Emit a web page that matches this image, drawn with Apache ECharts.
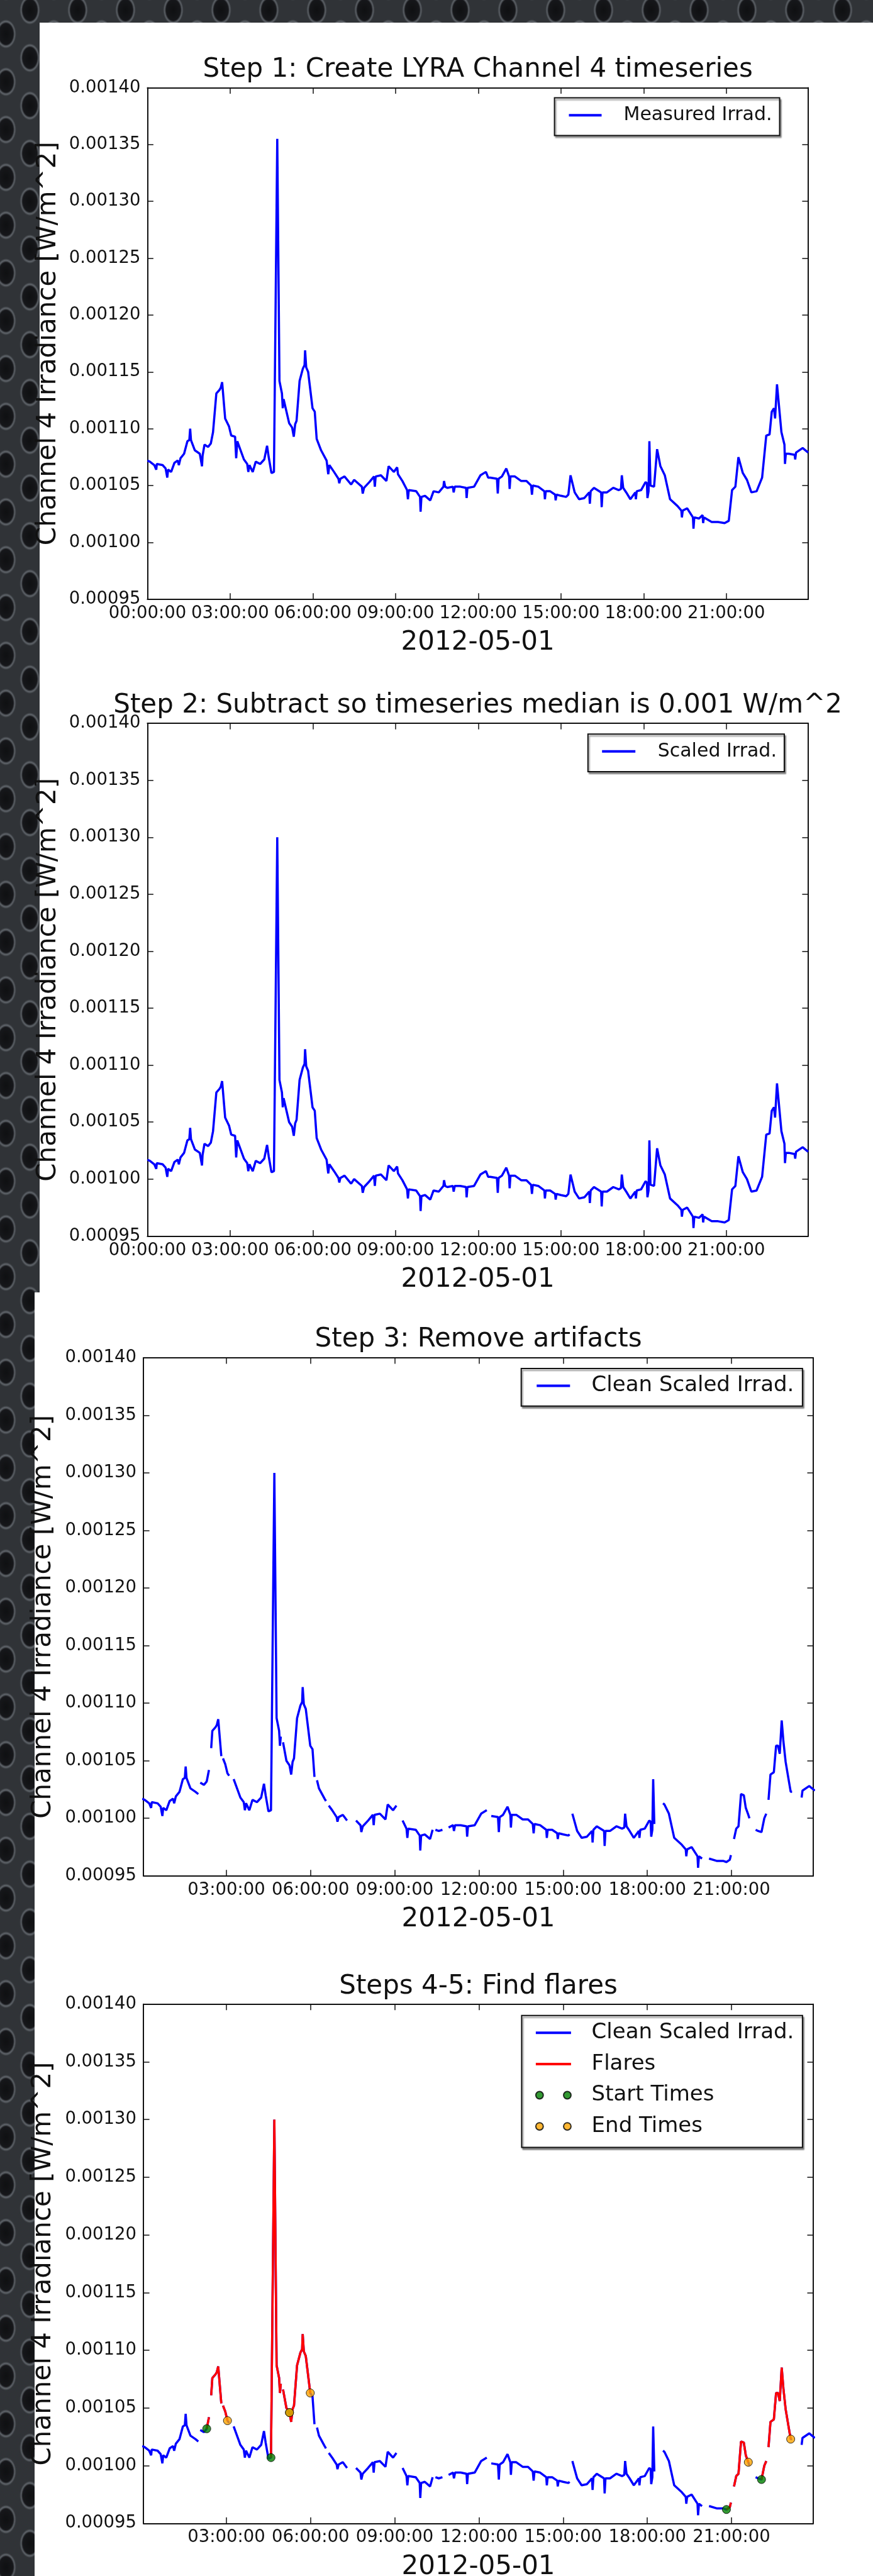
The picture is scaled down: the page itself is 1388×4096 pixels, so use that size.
<!DOCTYPE html>
<html>
<head>
<meta charset="utf-8">
<script src="https://cdn.jsdelivr.net/npm/echarts@6/dist/echarts.min.js"></script>
<style>
  html, body { margin: 0; padding: 0; }
  body {
    width: 1388px; height: 4096px; overflow: hidden; position: relative;
    background-color: #303337;
    background-image:
      radial-gradient(ellipse 16px 23px at 50% 50%, #0f1012 0%, #16171a 72%, #60656b 86%, rgba(48,51,55,0) 100%),
      radial-gradient(ellipse 16px 23px at 50% 50%, #0f1012 0%, #16171a 72%, #60656b 86%, rgba(48,51,55,0) 100%);
    background-size: 76px 76px, 76px 76px;
    background-position: -28.5px 16px, 9.5px 54px;
  }
  .sheet { position: absolute; background: #fff; }
  #chart { position: absolute; left: 0; top: 0; width: 1388px; height: 4096px; }
</style>
</head>
<body>
<div class="sheet" style="left:62.6px; top:36px; width:1325.4px; height:2018.6px"></div>
<div class="sheet" style="left:55px; top:2054.6px; width:1333px; height:2041.4px"></div>
<div id="chart"></div>
<script>
// LYRA channel 4, 2012-05-01 -- hours of day, irradiance in W/m^2
var measured = [
  [0.00,107.2e-5],[0.09,107.1e-5],[0.25,106.8e-5],[0.32,106.4e-5],[0.34,106.9e-5],[0.55,106.8e-5],[0.66,106.5e-5],[0.72,105.7e-5],[0.75,106.4e-5],[0.86,106.2e-5],
  [0.98,107.0e-5],[1.10,107.2e-5],[1.14,106.8e-5],[1.20,107.4e-5],[1.33,107.8e-5],[1.45,108.9e-5],[1.52,109.0e-5],[1.55,110.0e-5],[1.58,109.0e-5],[1.72,108.1e-5],
  [1.90,107.8e-5],[1.98,106.7e-5],[2.00,107.6e-5],[2.07,108.6e-5],[2.20,108.4e-5],[2.30,108.7e-5],[2.38,109.7e-5],[2.50,113.1e-5],[2.61,113.4e-5],[2.66,113.6e-5],
  [2.71,114.1e-5],[2.82,110.9e-5],[2.96,110.2e-5],[3.04,109.4e-5],[3.18,109.3e-5],[3.22,107.4e-5],[3.26,108.9e-5],[3.50,107.3e-5],[3.62,106.9e-5],[3.66,106.2e-5],
  [3.70,106.8e-5],[3.82,106.2e-5],[3.93,107.1e-5],[4.09,106.9e-5],[4.24,107.3e-5],[4.34,108.5e-5],[4.40,107.5e-5],[4.50,106.1e-5],[4.59,106.2e-5],[4.71,135.5e-5],
  [4.79,114.2e-5],[4.88,113.1e-5],[4.91,111.8e-5],[4.94,112.6e-5],[5.14,110.5e-5],[5.25,110.1e-5],[5.31,109.3e-5],[5.36,110.4e-5],[5.41,110.7e-5],[5.52,114.2e-5],
  [5.64,115.3e-5],[5.70,115.6e-5],[5.72,116.9e-5],[5.76,115.4e-5],[5.83,115.0e-5],[5.99,111.8e-5],[6.07,111.5e-5],[6.14,109.1e-5],[6.30,108.1e-5],[6.50,107.2e-5],
  [6.56,106.0e-5],[6.60,106.8e-5],[6.77,106.2e-5],[6.93,105.6e-5],[6.96,105.2e-5],[7.00,105.6e-5],[7.15,105.8e-5],[7.39,105.1e-5],[7.50,105.5e-5],[7.78,104.9e-5],
  [7.81,104.3e-5],[7.86,104.8e-5],[8.05,105.3e-5],[8.22,105.8e-5],[8.25,104.9e-5],[8.28,105.8e-5],[8.47,105.9e-5],[8.67,105.4e-5],[8.75,106.7e-5],[8.94,106.2e-5],
  [9.06,106.6e-5],[9.09,106.0e-5],[9.25,105.4e-5],[9.42,104.6e-5],[9.45,103.8e-5],[9.48,104.6e-5],[9.75,104.5e-5],[9.89,104.0e-5],[9.91,102.7e-5],[9.94,104.0e-5],
  [10.07,104.1e-5],[10.26,103.7e-5],[10.38,104.5e-5],[10.57,104.4e-5],[10.74,104.9e-5],[10.76,105.4e-5],[10.80,104.9e-5],[10.88,104.8e-5],[11.08,104.9e-5],[11.11,104.4e-5],
  [11.15,104.9e-5],[11.35,104.9e-5],[11.56,104.8e-5],[11.58,103.9e-5],[11.61,104.8e-5],[11.85,104.9e-5],[12.08,105.9e-5],[12.28,106.2e-5],[12.36,105.7e-5],[12.44,105.7e-5],
  [12.68,105.6e-5],[12.71,104.3e-5],[12.74,105.6e-5],[12.86,105.8e-5],[13.02,106.5e-5],[13.12,105.8e-5],[13.14,104.7e-5],[13.17,105.8e-5],[13.33,105.8e-5],[13.56,105.4e-5],
  [13.75,105.4e-5],[13.92,105.0e-5],[13.95,104.2e-5],[13.98,105.0e-5],[14.18,104.9e-5],[14.40,104.5e-5],[14.42,103.8e-5],[14.45,104.5e-5],[14.61,104.5e-5],[14.79,104.2e-5],
  [14.81,103.7e-5],[14.84,104.2e-5],[15.00,104.1e-5],[15.19,104.0e-5],[15.27,104.2e-5],[15.35,105.9e-5],[15.50,104.4e-5],[15.66,103.8e-5],[15.85,103.9e-5],[16.03,104.4e-5],
  [16.05,103.4e-5],[16.08,104.5e-5],[16.20,104.8e-5],[16.46,104.4e-5],[16.48,103.1e-5],[16.51,104.4e-5],[16.67,104.4e-5],[16.90,104.8e-5],[17.10,104.6e-5],[17.18,104.7e-5],
  [17.21,105.9e-5],[17.26,104.8e-5],[17.37,104.4e-5],[17.52,103.8e-5],[17.70,104.4e-5],[17.72,103.8e-5],[17.75,104.5e-5],[17.91,104.6e-5],[18.07,105.3e-5],[18.12,105.2e-5],
  [18.14,103.9e-5],[18.18,104.5e-5],[18.21,108.9e-5],[18.25,105.0e-5],[18.38,104.9e-5],[18.49,108.2e-5],[18.61,106.7e-5],[18.77,105.9e-5],[18.96,103.8e-5],[19.23,103.2e-5],
  [19.37,102.8e-5],[19.39,102.2e-5],[19.42,102.8e-5],[19.58,103.0e-5],[19.79,102.2e-5],[19.81,101.2e-5],[19.84,102.2e-5],[20.01,102.1e-5],[20.14,102.4e-5],[20.16,101.7e-5],
  [20.19,102.2e-5],[20.47,101.8e-5],[20.70,101.8e-5],[20.94,101.7e-5],[21.09,101.9e-5],[21.21,104.6e-5],[21.33,104.9e-5],[21.44,107.5e-5],[21.60,106.1e-5],[21.75,105.5e-5],
  [21.91,104.4e-5],[22.10,104.5e-5],[22.30,105.7e-5],[22.45,109.4e-5],[22.57,109.5e-5],[22.65,111.5e-5],[22.73,111.8e-5],[22.77,110.9e-5],[22.84,113.9e-5],[23.00,109.7e-5],
  [23.11,108.6e-5],[23.13,106.9e-5],[23.16,107.8e-5],[23.27,107.8e-5],[23.48,107.7e-5],[23.50,107.3e-5],[23.53,107.9e-5],[23.77,108.3e-5],[23.97,107.9e-5]
];

var scaled = [
  [0.00,101.7e-5],[0.09,101.6e-5],[0.25,101.3e-5],[0.32,100.9e-5],[0.34,101.4e-5],[0.55,101.3e-5],[0.66,101.0e-5],[0.72,100.2e-5],[0.75,100.9e-5],[0.86,100.7e-5],
  [0.98,101.5e-5],[1.10,101.7e-5],[1.14,101.3e-5],[1.20,101.9e-5],[1.33,102.3e-5],[1.45,103.4e-5],[1.52,103.5e-5],[1.55,104.5e-5],[1.58,103.5e-5],[1.72,102.6e-5],
  [1.90,102.3e-5],[1.98,101.2e-5],[2.00,102.1e-5],[2.07,103.1e-5],[2.20,102.9e-5],[2.30,103.2e-5],[2.38,104.2e-5],[2.50,107.6e-5],[2.61,107.9e-5],[2.66,108.1e-5],
  [2.71,108.6e-5],[2.82,105.4e-5],[2.96,104.7e-5],[3.04,103.9e-5],[3.18,103.8e-5],[3.22,101.9e-5],[3.26,103.4e-5],[3.50,101.8e-5],[3.62,101.4e-5],[3.66,100.7e-5],
  [3.70,101.3e-5],[3.82,100.7e-5],[3.93,101.6e-5],[4.09,101.4e-5],[4.24,101.8e-5],[4.34,103.0e-5],[4.40,102.0e-5],[4.50,100.6e-5],[4.59,100.7e-5],[4.71,130.0e-5],
  [4.79,108.7e-5],[4.88,107.6e-5],[4.91,106.3e-5],[4.94,107.1e-5],[5.14,105.0e-5],[5.25,104.6e-5],[5.31,103.8e-5],[5.36,104.9e-5],[5.41,105.2e-5],[5.52,108.7e-5],
  [5.64,109.8e-5],[5.70,110.1e-5],[5.72,111.4e-5],[5.76,109.9e-5],[5.83,109.5e-5],[5.99,106.3e-5],[6.07,106.0e-5],[6.14,103.6e-5],[6.30,102.6e-5],[6.50,101.7e-5],
  [6.56,100.5e-5],[6.60,101.3e-5],[6.77,100.7e-5],[6.93,100.1e-5],[6.96,99.7e-5],[7.00,100.1e-5],[7.15,100.3e-5],[7.39,99.6e-5],[7.50,100.0e-5],[7.78,99.4e-5],
  [7.81,98.8e-5],[7.86,99.3e-5],[8.05,99.8e-5],[8.22,100.3e-5],[8.25,99.4e-5],[8.28,100.3e-5],[8.47,100.4e-5],[8.67,99.9e-5],[8.75,101.2e-5],[8.94,100.7e-5],
  [9.06,101.1e-5],[9.09,100.5e-5],[9.25,99.9e-5],[9.42,99.1e-5],[9.45,98.3e-5],[9.48,99.1e-5],[9.75,99.0e-5],[9.89,98.5e-5],[9.91,97.2e-5],[9.94,98.5e-5],
  [10.07,98.6e-5],[10.26,98.2e-5],[10.38,99.0e-5],[10.57,98.9e-5],[10.74,99.4e-5],[10.76,99.9e-5],[10.80,99.4e-5],[10.88,99.3e-5],[11.08,99.4e-5],[11.11,98.9e-5],
  [11.15,99.4e-5],[11.35,99.4e-5],[11.56,99.3e-5],[11.58,98.4e-5],[11.61,99.3e-5],[11.85,99.4e-5],[12.08,100.4e-5],[12.28,100.7e-5],[12.36,100.2e-5],[12.44,100.2e-5],
  [12.68,100.1e-5],[12.71,98.8e-5],[12.74,100.1e-5],[12.86,100.3e-5],[13.02,101.0e-5],[13.12,100.3e-5],[13.14,99.2e-5],[13.17,100.3e-5],[13.33,100.3e-5],[13.56,99.9e-5],
  [13.75,99.9e-5],[13.92,99.5e-5],[13.95,98.7e-5],[13.98,99.5e-5],[14.18,99.4e-5],[14.40,99.0e-5],[14.42,98.3e-5],[14.45,99.0e-5],[14.61,99.0e-5],[14.79,98.7e-5],
  [14.81,98.2e-5],[14.84,98.7e-5],[15.00,98.6e-5],[15.19,98.5e-5],[15.27,98.7e-5],[15.35,100.4e-5],[15.50,98.9e-5],[15.66,98.3e-5],[15.85,98.4e-5],[16.03,98.9e-5],
  [16.05,97.9e-5],[16.08,99.0e-5],[16.20,99.3e-5],[16.46,98.9e-5],[16.48,97.6e-5],[16.51,98.9e-5],[16.67,98.9e-5],[16.90,99.3e-5],[17.10,99.1e-5],[17.18,99.2e-5],
  [17.21,100.4e-5],[17.26,99.3e-5],[17.37,98.9e-5],[17.52,98.3e-5],[17.70,98.9e-5],[17.72,98.3e-5],[17.75,99.0e-5],[17.91,99.1e-5],[18.07,99.8e-5],[18.12,99.7e-5],
  [18.14,98.4e-5],[18.18,99.0e-5],[18.21,103.4e-5],[18.25,99.5e-5],[18.38,99.4e-5],[18.49,102.7e-5],[18.61,101.2e-5],[18.77,100.4e-5],[18.96,98.3e-5],[19.23,97.7e-5],
  [19.37,97.3e-5],[19.39,96.7e-5],[19.42,97.3e-5],[19.58,97.5e-5],[19.79,96.7e-5],[19.81,95.7e-5],[19.84,96.7e-5],[20.01,96.6e-5],[20.14,96.9e-5],[20.16,96.2e-5],
  [20.19,96.7e-5],[20.47,96.3e-5],[20.70,96.3e-5],[20.94,96.2e-5],[21.09,96.4e-5],[21.21,99.1e-5],[21.33,99.4e-5],[21.44,102.0e-5],[21.60,100.6e-5],[21.75,100.0e-5],
  [21.91,98.9e-5],[22.10,99.0e-5],[22.30,100.2e-5],[22.45,103.9e-5],[22.57,104.0e-5],[22.65,106.0e-5],[22.73,106.3e-5],[22.77,105.4e-5],[22.84,108.4e-5],[23.00,104.2e-5],
  [23.11,103.1e-5],[23.13,101.4e-5],[23.16,102.3e-5],[23.27,102.3e-5],[23.48,102.2e-5],[23.50,101.8e-5],[23.53,102.4e-5],[23.77,102.8e-5],[23.97,102.4e-5]
];

// artifacts removed: null marks a break in the line
var clean = [
  [0.00,101.7e-5],[0.09,101.6e-5],[0.25,101.3e-5],[0.32,100.9e-5],[0.34,101.4e-5],[0.55,101.3e-5],[0.66,101.0e-5],[0.72,100.2e-5],[0.75,100.9e-5],[0.86,100.7e-5],
  [0.98,101.5e-5],[1.10,101.7e-5],[1.14,101.3e-5],[1.20,101.9e-5],[1.33,102.3e-5],[1.45,103.4e-5],[1.52,103.5e-5],[1.55,104.5e-5],[1.58,103.5e-5],[1.72,102.6e-5],
  [1.90,102.3e-5],[2.00,102.1e-5],[2.03,null],[2.07,103.1e-5],[2.20,102.9e-5],[2.30,103.2e-5],[2.38,104.2e-5],[2.42,null],[2.46,106.1e-5],[2.50,107.6e-5],
  [2.61,107.9e-5],[2.66,108.1e-5],[2.71,108.6e-5],[2.82,105.4e-5],[2.85,null],[2.88,105.2e-5],[2.96,104.7e-5],[3.04,103.9e-5],[3.10,103.7e-5],[3.18,null],
  [3.26,103.4e-5],[3.50,101.8e-5],[3.62,101.4e-5],[3.66,100.7e-5],[3.70,101.3e-5],[3.82,100.7e-5],[3.93,101.6e-5],[4.09,101.4e-5],[4.24,101.8e-5],[4.34,103.0e-5],
  [4.40,102.0e-5],[4.50,100.6e-5],[4.59,100.7e-5],[4.71,130.0e-5],[4.79,108.7e-5],[4.88,107.6e-5],[4.91,106.3e-5],[4.94,107.1e-5],[4.97,null],[5.02,106.6e-5],
  [5.14,105.0e-5],[5.25,104.6e-5],[5.31,103.8e-5],[5.36,104.9e-5],[5.41,105.2e-5],[5.52,108.7e-5],[5.64,109.8e-5],[5.70,110.1e-5],[5.72,111.4e-5],[5.76,109.9e-5],
  [5.83,109.5e-5],[5.99,106.3e-5],[6.07,106.0e-5],[6.14,103.6e-5],[6.19,null],[6.23,103.3e-5],[6.30,102.6e-5],[6.50,101.7e-5],[6.55,101.5e-5],[6.60,null],
  [6.65,101.1e-5],[6.77,100.7e-5],[6.93,100.1e-5],[6.96,99.7e-5],[7.00,100.1e-5],[7.15,100.3e-5],[7.30,99.8e-5],[7.45,null],[7.62,99.8e-5],[7.78,99.4e-5],
  [7.81,98.8e-5],[7.86,99.3e-5],[8.05,99.8e-5],[8.22,100.3e-5],[8.25,99.4e-5],[8.28,100.3e-5],[8.47,100.4e-5],[8.67,99.9e-5],[8.75,101.2e-5],[8.94,100.7e-5],
  [9.06,101.1e-5],[9.15,null],[9.28,99.8e-5],[9.42,99.1e-5],[9.45,98.3e-5],[9.48,99.1e-5],[9.75,99.0e-5],[9.89,98.5e-5],[9.91,97.2e-5],[9.94,98.5e-5],
  [10.07,98.6e-5],[10.26,98.2e-5],[10.35,99.0e-5],[10.40,null],[10.45,99.0e-5],[10.57,98.9e-5],[10.70,99.0e-5],[10.82,null],[10.92,99.2e-5],[11.08,99.4e-5],
  [11.11,98.9e-5],[11.15,99.4e-5],[11.35,99.4e-5],[11.56,99.3e-5],[11.58,98.4e-5],[11.61,99.3e-5],[11.85,99.4e-5],[12.08,100.4e-5],[12.28,100.7e-5],[12.35,null],
  [12.44,100.2e-5],[12.68,100.1e-5],[12.71,98.8e-5],[12.74,100.1e-5],[12.86,100.3e-5],[13.02,101.0e-5],[13.12,100.3e-5],[13.14,99.2e-5],[13.17,100.3e-5],[13.33,100.3e-5],
  [13.56,99.9e-5],[13.75,99.9e-5],[13.92,99.5e-5],[13.95,98.7e-5],[13.98,99.5e-5],[14.18,99.4e-5],[14.40,99.0e-5],[14.42,98.3e-5],[14.45,99.0e-5],[14.61,99.0e-5],
  [14.79,98.7e-5],[14.81,98.2e-5],[14.84,98.7e-5],[15.00,98.6e-5],[15.19,98.5e-5],[15.23,98.6e-5],[15.28,null],[15.33,100.4e-5],[15.50,98.9e-5],[15.66,98.3e-5],
  [15.85,98.4e-5],[16.03,98.9e-5],[16.05,97.9e-5],[16.08,99.0e-5],[16.20,99.3e-5],[16.46,98.9e-5],[16.48,97.6e-5],[16.51,98.9e-5],[16.67,98.9e-5],[16.90,99.3e-5],
  [17.10,99.1e-5],[17.18,99.2e-5],[17.21,100.4e-5],[17.26,99.3e-5],[17.37,98.9e-5],[17.52,98.3e-5],[17.70,98.9e-5],[17.72,98.3e-5],[17.75,99.0e-5],[17.91,99.1e-5],
  [18.07,99.8e-5],[18.12,99.7e-5],[18.14,98.4e-5],[18.18,99.0e-5],[18.21,103.4e-5],[18.25,99.5e-5],[18.40,null],[18.56,101.3e-5],[18.61,101.2e-5],[18.77,100.4e-5],
  [18.96,98.3e-5],[19.23,97.7e-5],[19.37,97.3e-5],[19.39,96.7e-5],[19.42,97.3e-5],[19.58,97.5e-5],[19.79,96.7e-5],[19.81,95.7e-5],[19.84,96.7e-5],[19.95,96.5e-5],
  [20.07,null],[20.20,96.5e-5],[20.47,96.3e-5],[20.70,96.3e-5],[20.82,96.2e-5],[20.94,96.4e-5],[20.98,96.8e-5],[21.04,null],[21.09,98.2e-5],[21.17,99.1e-5],
  [21.25,99.3e-5],[21.34,102.1e-5],[21.44,102.0e-5],[21.51,100.9e-5],[21.60,100.3e-5],[21.64,100.0e-5],[21.74,null],[21.86,99.0e-5],[21.95,98.9e-5],[22.07,98.8e-5],
  [22.17,100.0e-5],[22.24,100.4e-5],[22.28,null],[22.32,101.6e-5],[22.39,103.8e-5],[22.51,104.0e-5],[22.59,106.3e-5],[22.66,106.3e-5],[22.72,105.6e-5],[22.79,108.5e-5],
  [22.85,106.7e-5],[22.93,104.9e-5],[23.04,103.3e-5],[23.11,102.3e-5],[23.16,102.3e-5],[23.30,null],[23.50,101.8e-5],[23.53,102.4e-5],[23.77,102.8e-5],[23.97,102.4e-5]
];

var flares = [
  [2.30,103.2e-5],[2.38,104.2e-5],[2.42,null],[2.46,106.1e-5],[2.50,107.6e-5],[2.61,107.9e-5],[2.66,108.1e-5],[2.71,108.6e-5],[2.82,105.4e-5],[2.85,null],
  [2.88,105.2e-5],[2.96,104.7e-5],[3.04,103.9e-5],[3.50,null],
  [4.59,100.7e-5],[4.71,130.0e-5],[4.79,108.7e-5],[4.88,107.6e-5],[4.91,106.3e-5],[4.94,107.1e-5],[4.97,null],[5.02,106.6e-5],[5.14,105.0e-5],[5.25,104.6e-5],
  [5.31,103.8e-5],[5.36,104.9e-5],[5.41,105.2e-5],[5.52,108.7e-5],[5.64,109.8e-5],[5.70,110.1e-5],[5.72,111.4e-5],[5.76,109.9e-5],[5.83,109.5e-5],[5.99,106.3e-5],
  [10.00,null],
  [20.82,96.2e-5],[20.94,96.4e-5],[20.98,96.8e-5],[21.04,null],[21.09,98.2e-5],[21.17,99.1e-5],[21.25,99.3e-5],[21.34,102.1e-5],[21.44,102.0e-5],[21.51,100.9e-5],
  [21.60,100.3e-5],[21.80,null],
  [22.07,98.8e-5],[22.17,100.0e-5],[22.24,100.4e-5],[22.28,null],[22.32,101.6e-5],[22.39,103.8e-5],[22.51,104.0e-5],[22.59,106.3e-5],[22.66,106.3e-5],[22.72,105.6e-5],
  [22.79,108.5e-5],[22.85,106.7e-5],[22.93,104.9e-5],[23.04,103.3e-5],[23.11,102.3e-5]
];

var startTimes = [[2.30,103.2e-5],[4.59,100.7e-5],[5.25,104.6e-5],[20.82,96.2e-5],[22.07,98.8e-5]];
var endTimes = [[3.04,103.9e-5],[5.25,104.6e-5],[5.99,106.3e-5],[21.60,100.3e-5],[23.11,102.3e-5]];

var fullDayTicks = [0, 3, 6, 9, 12, 15, 18, 21];
var cleanDayTicks = [3, 6, 9, 12, 15, 18, 21];
var yMin = 95e-5, yMax = 140e-5, yStep = 5e-5;

var titles = [
  'Step 1: Create LYRA Channel 4 timeseries',
  'Step 2: Subtract so timeseries median is 0.001 W/m^2',
  'Step 3: Remove artifacts',
  'Steps 4-5: Find flares'
];
var dateLabel = '2012-05-01';
var yName = 'Channel 4 Irradiance [W/m^2]';

var font = 'DejaVu Sans';
var ink = '#111';
var blue = '#0000ff';
var red = '#ff0000';
var lineW = 3.5;

// plot boxes (px)
var panels = [
  { left: 234.4, top: 139.5, width: 1050.5, height: 813.3, xMin: 0, xMax: 23.97, ticks: fullDayTicks, titleY: 111, nameX: 77 },
  { left: 234.4, top: 1150.2, width: 1050.5, height: 815.2, xMin: 0, xMax: 23.97, ticks: fullDayTicks, titleY: 1121.7, nameX: 77 },
  { left: 228.1, top: 2159.0, width: 1064.9, height: 823.7, xMin: 0.046, xMax: 23.914, ticks: cleanDayTicks, titleY: 2129.6, nameX: 69 },
  { left: 228.1, top: 3186.7, width: 1064.9, height: 825.6, xMin: 0.046, xMax: 23.914, ticks: cleanDayTicks, titleY: 3159.2, nameX: 69 }
];

function hms(h) {
  return (h < 10 ? '0' : '') + h + ':00:00';
}

var grid = [], xAxis = [], yAxis = [], graphics = [];

panels.forEach(function(p, i) {
  grid.push({ left: p.left, top: p.top, width: p.width, height: p.height, containLabel: false, outerBoundsMode: 'none' });

  var lineStyle = { color: ink, width: 2 };
  var tickStyle = { color: ink, width: 1.5 };

  xAxis.push({
    type: 'value', gridIndex: i, position: 'bottom', min: p.xMin, max: p.xMax,
    axisLine: { show: true, onZero: false, lineStyle: lineStyle },
    axisTick: { show: true, inside: true, length: 9.5, customValues: p.ticks, lineStyle: tickStyle },
    axisLabel: { show: true, customValues: p.ticks, formatter: hms, margin: 9, fontSize: 27.5, fontFamily: font, color: ink },
    splitLine: { show: false }
  });
  xAxis.push({
    type: 'value', gridIndex: i, position: 'top', min: p.xMin, max: p.xMax,
    axisLine: { show: true, onZero: false, lineStyle: lineStyle },
    axisTick: { show: true, inside: true, length: 9.5, customValues: p.ticks, lineStyle: tickStyle },
    axisLabel: { show: false },
    splitLine: { show: false }
  });
  yAxis.push({
    type: 'value', gridIndex: i, position: 'left', min: yMin, max: yMax, interval: yStep,
    axisLine: { show: true, onZero: false, lineStyle: lineStyle },
    axisTick: { show: true, inside: true, length: 9.5, lineStyle: tickStyle },
    axisLabel: {
      formatter: function(v) { return v.toFixed(5); },
      margin: 11, fontSize: 27.5, fontFamily: font, color: ink
    },
    splitLine: { show: false }
  });
  yAxis.push({
    type: 'value', gridIndex: i, position: 'right', min: yMin, max: yMax, interval: yStep,
    axisLine: { show: true, onZero: false, lineStyle: lineStyle },
    axisTick: { show: true, inside: true, length: 9.5, lineStyle: tickStyle },
    axisLabel: { show: false },
    splitLine: { show: false }
  });

  var cx = p.left + p.width / 2;
  // title
  graphics.push({
    type: 'text', x: cx, y: p.titleY, silent: true, z: 10,
    style: { text: titles[i], fontSize: 42, fontFamily: font, fill: ink,
             align: 'center', verticalAlign: 'middle', textAlign: 'center', textVerticalAlign: 'middle' }
  });
  // x axis name (the date)
  graphics.push({
    type: 'text', x: cx, y: p.top + p.height + 69.5, silent: true, z: 10,
    style: { text: dateLabel, fontSize: 42, fontFamily: font, fill: ink,
             align: 'center', verticalAlign: 'middle', textAlign: 'center', textVerticalAlign: 'middle' }
  });
  // y axis name
  graphics.push({
    type: 'text', x: p.nameX, y: p.top + p.height / 2, rotation: Math.PI / 2, silent: true, z: 10,
    style: { text: yName, fontSize: 42, fontFamily: font, fill: ink,
             align: 'center', verticalAlign: 'middle', textAlign: 'center', textVerticalAlign: 'middle' }
  });
});

var twoDots = 'path://M0,6.5a6.5,6.5 0 1,0 13,0a6.5,6.5 0 1,0 -13,0zM48.4,6.5a6.5,6.5 0 1,0 13,0a6.5,6.5 0 1,0 -13,0z';
// line entries: keep only the stroke, hide the symbol that echarts puts in the middle
var noDot = { opacity: 0, borderWidth: 0 };

function legendBox(opts) {
  return {
    orient: 'vertical', left: opts.left, top: opts.top, padding: opts.padding,
    itemWidth: opts.itemWidth, itemHeight: opts.size, itemGap: opts.gap || 0,
    data: opts.data, selectedMode: false,
    backgroundColor: '#fff', borderColor: ink, borderWidth: 2, borderRadius: 0,
    shadowColor: 'rgba(0,0,0,0.4)', shadowOffsetX: 2, shadowOffsetY: 3, shadowBlur: 2,
    lineStyle: { width: 4 },
    textStyle: { fontSize: opts.size, lineHeight: opts.size, fontFamily: font, color: ink, padding: [0, 0, 0, opts.textPad] }
  };
}

var option = {
  animation: false,
  backgroundColor: 'transparent',
  grid: grid,
  xAxis: xAxis,
  yAxis: yAxis,
  legend: [
    legendBox({ left: 881.6, top: 155.6, padding: [12.6, 12, 17.2, 20.9], itemWidth: 52, size: 30, textPad: 30,
      data: [{ name: 'Measured Irrad.', itemStyle: noDot }] }),
    legendBox({ left: 934.8, top: 1167.3, padding: [12.5, 12, 17.3, 20.4], itemWidth: 53, size: 30, textPad: 30.5,
      data: [{ name: 'Scaled Irrad.', itemStyle: noDot }] }),
    legendBox({ left: 828.7, top: 2176, padding: [10.6, 13.5, 15.2, 22.6], itemWidth: 53, size: 34, textPad: 29.3,
      data: [{ name: 'Clean Scaled Irrad.', itemStyle: noDot }] }),
    legendBox({ left: 829.4, top: 3204.8, padding: [10.5, 13.5, 16.4, 20.5], itemWidth: 56, size: 34, gap: 15.6, textPad: 27.7,
      data: [
        { name: 'Clean Scaled Irrad.', itemStyle: noDot },
        { name: 'Flares', itemStyle: noDot },
        { name: 'Start Times', icon: twoDots },
        { name: 'End Times', icon: twoDots }
      ] })
  ],
  graphic: { elements: graphics },
  series: [
    { name: 'Measured Irrad.', type: 'line', xAxisIndex: 0, yAxisIndex: 0, data: measured, symbol: 'none',
      lineStyle: { color: blue, width: lineW }, itemStyle: { color: blue }, silent: true },
    { name: 'Scaled Irrad.', type: 'line', xAxisIndex: 2, yAxisIndex: 2, data: scaled, symbol: 'none',
      lineStyle: { color: blue, width: lineW }, itemStyle: { color: blue }, silent: true },
    { name: 'Clean Scaled Irrad.', type: 'line', xAxisIndex: 4, yAxisIndex: 4, data: clean, symbol: 'none', connectNulls: false,
      lineStyle: { color: blue, width: lineW }, itemStyle: { color: blue }, silent: true },
    { name: 'Clean Scaled Irrad.', type: 'line', xAxisIndex: 6, yAxisIndex: 6, data: clean, symbol: 'none', connectNulls: false,
      lineStyle: { color: blue, width: lineW }, itemStyle: { color: blue }, silent: true },
    { name: 'Flares', type: 'line', xAxisIndex: 6, yAxisIndex: 6, data: flares, symbol: 'none', connectNulls: false,
      lineStyle: { color: red, width: lineW }, itemStyle: { color: red }, silent: true, z: 3 },
    { name: 'Start Times', type: 'scatter', xAxisIndex: 6, yAxisIndex: 6, data: startTimes, symbol: 'circle', symbolSize: 13,
      itemStyle: { color: '#008000', borderColor: '#000', borderWidth: 1 }, silent: true, z: 4 },
    { name: 'End Times', type: 'scatter', xAxisIndex: 6, yAxisIndex: 6, data: endTimes, symbol: 'circle', symbolSize: 13,
      itemStyle: { color: '#ffa500', borderColor: '#000', borderWidth: 1 }, silent: true, z: 5 }
  ]
};

var chart = echarts.init(document.getElementById('chart'), null, { renderer: 'canvas' });
chart.setOption(option);
</script>
</body>
</html>
